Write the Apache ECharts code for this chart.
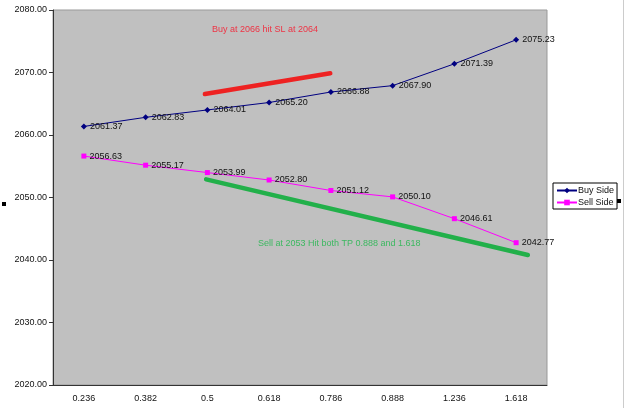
<!DOCTYPE html>
<html>
<head>
<meta charset="utf-8">
<script src="https://cdn.jsdelivr.net/npm/echarts@6/dist/echarts.min.js"></script>
<style>
  html, body { margin: 0; padding: 0; background: #fff; }
  #chart { width: 625px; height: 408px; }
</style>
</head>
<body>
<div id="chart"></div>
<script>
// fib levels on the x axis
const levels = ['0.236', '0.382', '0.5', '0.618', '0.786', '0.888', '1.236', '1.618'];
const buySide = [2061.37, 2062.83, 2064.01, 2065.20, 2066.88, 2067.90, 2071.39, 2075.23];
const sellSide = [2056.63, 2055.17, 2053.99, 2052.80, 2051.12, 2050.10, 2046.61, 2042.77];
// hand drawn trade lines, x in category units (0..8)
const buyTrade = [[2.46, 2066.55], [4.49, 2069.87]];
const sellTrade = [[2.48, 2052.9], [7.69, 2040.8]];
const buyNote = 'Buy at 2066 hit SL at 2064';
const sellNote = 'Sell at 2053 Hit both TP 0.888 and 1.618';

const font = 'Arial, "Liberation Sans", sans-serif';

const chart = echarts.init(document.getElementById('chart'));

const dataLabel = {
  show: true,
  position: 'right',
  distance: 3,
  color: '#111',
  fontSize: 9,
  fontFamily: font,
  formatter: p => p.value.toFixed(2)
};

const option = {
  animation: false,
  grid: {
    left: 53, top: 10, right: 78, bottom: 23,
    show: true,
    backgroundColor: '#c0c0c0',
    borderColor: '#999',
    borderWidth: 1
  },
  xAxis: [{
    type: 'category',
    data: levels,
    boundaryGap: true,
    axisLine: {lineStyle: {color: '#333'}},
    axisTick: {length: 4, lineStyle: {color: '#333'}},
    axisLabel: {color: '#111', fontSize: 9, fontFamily: font, margin: 9}
  }, {
    type: 'value',
    min: 0,
    max: 8,
    show: false
  }],
  yAxis: {
    type: 'value',
    min: 2020,
    max: 2080,
    interval: 10,
    axisLine: {show: true, lineStyle: {color: '#333'}},
    axisTick: {show: true, length: 4, lineStyle: {color: '#333'}},
    splitLine: {show: false},
    axisLabel: {color: '#111', fontSize: 9, fontFamily: font, margin: 6,
      formatter: v => v.toFixed(2)}
  },
  legend: {
    orient: 'vertical',
    left: 553,
    top: 183,
    backgroundColor: '#fff',
    borderColor: '#000',
    borderWidth: 1,
    padding: [3, 3, 2, 3],
    itemGap: 3,
    itemWidth: 20,
    itemHeight: 7,
    textStyle: {color: '#111', fontSize: 9, fontFamily: font, padding: [0, 0, 0, -4]},
    data: ['Buy Side', 'Sell Side']
  },
  series: [{
    name: 'Buy Side',
    type: 'line',
    data: buySide,
    symbol: 'diamond',
    symbolSize: 6,
    lineStyle: {color: '#000080', width: 1},
    itemStyle: {color: '#000080'},
    label: dataLabel,
    z: 3
  }, {
    name: 'Sell Side',
    type: 'line',
    data: sellSide,
    symbol: 'rect',
    symbolSize: 5,
    lineStyle: {color: '#ff00ff', width: 1},
    itemStyle: {color: '#ff00ff'},
    label: dataLabel,
    z: 3
  }, {
    name: 'buyTrade',
    type: 'line',
    xAxisIndex: 1,
    data: buyTrade,
    symbol: 'none',
    lineStyle: {color: '#ee2222', width: 4.5, cap: 'round'},
    z: 2
  }, {
    name: 'sellTrade',
    type: 'line',
    xAxisIndex: 1,
    data: sellTrade,
    symbol: 'none',
    lineStyle: {color: '#22b04a', width: 4.5, cap: 'round'},
    z: 2
  }],
  graphic: [
    {type: 'text', left: 212, top: 25,
      style: {text: buyNote, fill: '#ee3344', font: '9px ' + font}},
    {type: 'text', left: 258, top: 239,
      style: {text: sellNote, fill: '#3cb860', font: '9px ' + font}},
    {type: 'rect', shape: {x: 2, y: 202, width: 4, height: 4}, style: {fill: '#000'}},
    {type: 'rect', shape: {x: 617, y: 199, width: 4, height: 4}, style: {fill: '#000'}},
    {type: 'line', shape: {x1: 623.5, y1: 0, x2: 623.5, y2: 408}, style: {stroke: '#ccc', lineWidth: 1}}
  ]
};

chart.setOption(option);
</script>
</body>
</html>
